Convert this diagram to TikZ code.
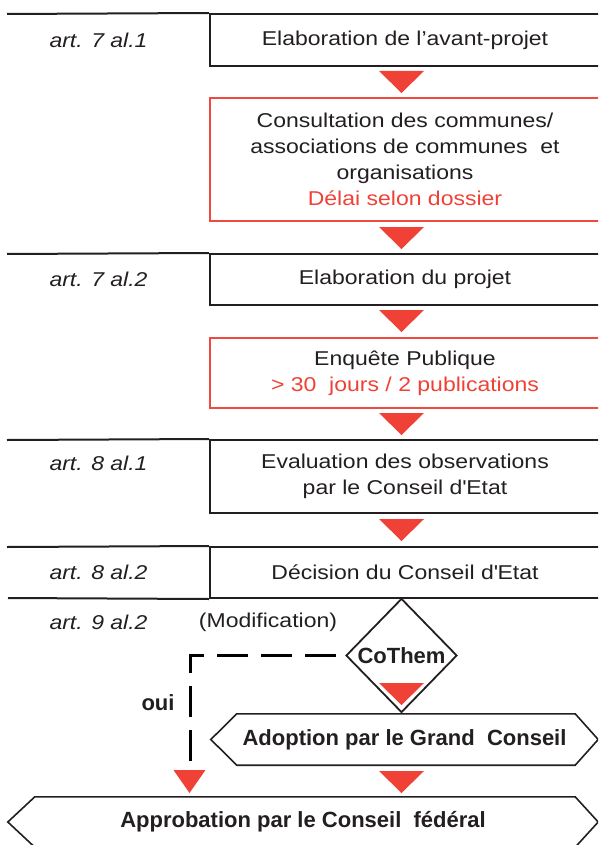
\documentclass[tikz,border=0pt]{standalone}
\usepackage{fontspec}
\setmainfont{Liberation Sans}[FakeStretch=1.15]
\newfontfamily\strongfont{Liberation Sans}
\usepackage{xcolor}
\definecolor{INKcolor}{HTML}{231F20}
\definecolor{REDcolor}{HTML}{EF4136}
\definecolor{BOXcolor}{HTML}{EE4A42}
\usepackage{tikz}
\usetikzlibrary{math, calc, shapes.geometric}

\begin{document}
\begin{tikzpicture}[x=1pt, y=-1pt, font=\fontsize{20pt}{26pt}\selectfont, text=INKcolor]
    \tikzset{%
        pics/redtip/.style args={#1/#2}{code={%
                        \fill [REDcolor] (-#1/2, 0) -- (#1/2, 0) -- (0, #2) -- cycle;
                    }
            },
        inkline/.style={draw=INKcolor, line width=2pt},
        stepbox/.style={inkline, minimum width=390pt, inner sep=0pt, align=center},
        notebox/.style={draw=BOXcolor, line width=2pt, minimum width=390pt, inner sep=0pt, align=center},
        artlabel/.style={anchor=west, font=\fontsize{20pt}{26pt}\selectfont\itshape},
        strong/.style={inner sep=0pt, font=\strongfont\bfseries\fontsize{22pt}{26pt}\selectfont},
        choice/.style={strong, diamond, draw=INKcolor, line width=1.8pt, minimum width=111pt, minimum height=114pt},
        hexline/.style={draw=INKcolor, line width=1.6pt, line join=miter},
        dashlink/.style={draw=black, line width=3pt, dash pattern=on 31pt off 13pt, dash phase=35pt},
    }

    \useasboundingbox (0, 0) rectangle (598, 845);
    \clip (0, 0) rectangle (598, 845);

    % articles
    \node [artlabel] (art71) at (46, 40) {art. 7 al.1};
    \node [artlabel] (art72) at (46, 279.5) {art. 7 al.2};
    \node [artlabel] (art81) at (46, 463) {art. 8 al.1};
    \node [artlabel] (art82) at (46, 572.5) {art. 8 al.2};
    \node [artlabel] (art92) at (46, 622) {art. 9 al.2};
    \node (modif) at (268, 622) {(Modification)};

    % steps
    \node [stepbox, minimum height=52pt] (avant) at (405, 40) {Elaboration de l’avant-projet};
    \node [notebox, minimum height=123pt] (consult) at (405, 159.5) {Consultation des communes/\\associations de communes~~et\\organisations\\\textcolor{REDcolor}{Délai selon dossier}};
    \node [stepbox, minimum height=51pt] (projet) at (405, 279.5) {Elaboration du projet};
    \node [notebox, minimum height=70pt] (enquete) at (405, 373) {Enquête Publique\\\textcolor{REDcolor}{>~30~~jours / 2 publications}};
    \node [stepbox, minimum height=73pt] (evaluation) at (405, 476.5) {Evaluation des observations\\par le Conseil d\textquotesingle{}Etat};
    \node [stepbox, minimum height=51pt] (etat) at (405, 572.5) {Décision du Conseil d\textquotesingle{}Etat};

    \draw [inkline] (7, 14) -- (avant.north west);
    \draw [inkline] (7, 254) -- (projet.north west);
    \draw [inkline] (7, 440) -- (evaluation.north west);
    \draw [inkline] (7, 547) -- (etat.north west);
    \draw [inkline] (8, 598) -- (etat.south west);

    % CoThem
    \node [choice] (cothem) at (401.5, 655.5) {CoThem};
    \node [strong] (oui) at (158, 703) {oui};
    \coordinate (ouiend) at (190.5, 762);
    \draw [dashlink] (cothem.west) -| (ouiend);

    % Grand Conseil / Conseil federal
    \node [strong, minimum width=387pt, minimum height=51pt] (adopt) at (404.5, 739.5) {Adoption par le Grand~~Conseil};
    \draw [hexline] (adopt.west) -- ([xshift=26pt]adopt.north west) -- ([xshift=-23pt]adopt.north east)
        -- (adopt.east) -- ([xshift=-23pt]adopt.south east) -- ([xshift=26pt]adopt.south west) -- cycle;
    \node [strong, minimum width=590pt, minimum height=50pt] (approb) at (303, 822) {Approbation par le Conseil~~fédéral};
    \draw [hexline] (approb.west) -- ([xshift=27pt]approb.north west) -- ([xshift=-23pt]approb.north east)
        -- (approb.east) -- ([xshift=-23pt]approb.south east) -- ([xshift=27pt]approb.south west) -- cycle;

    % red tips
    \foreach \ytop in {71, 227, 310, 413, 519, 683, 771} {%
            \pic at (401.5, \ytop) {redtip=45/22};
        }
    \pic at (189.5, 770) {redtip=32/23};
\end{tikzpicture}
\end{document}
